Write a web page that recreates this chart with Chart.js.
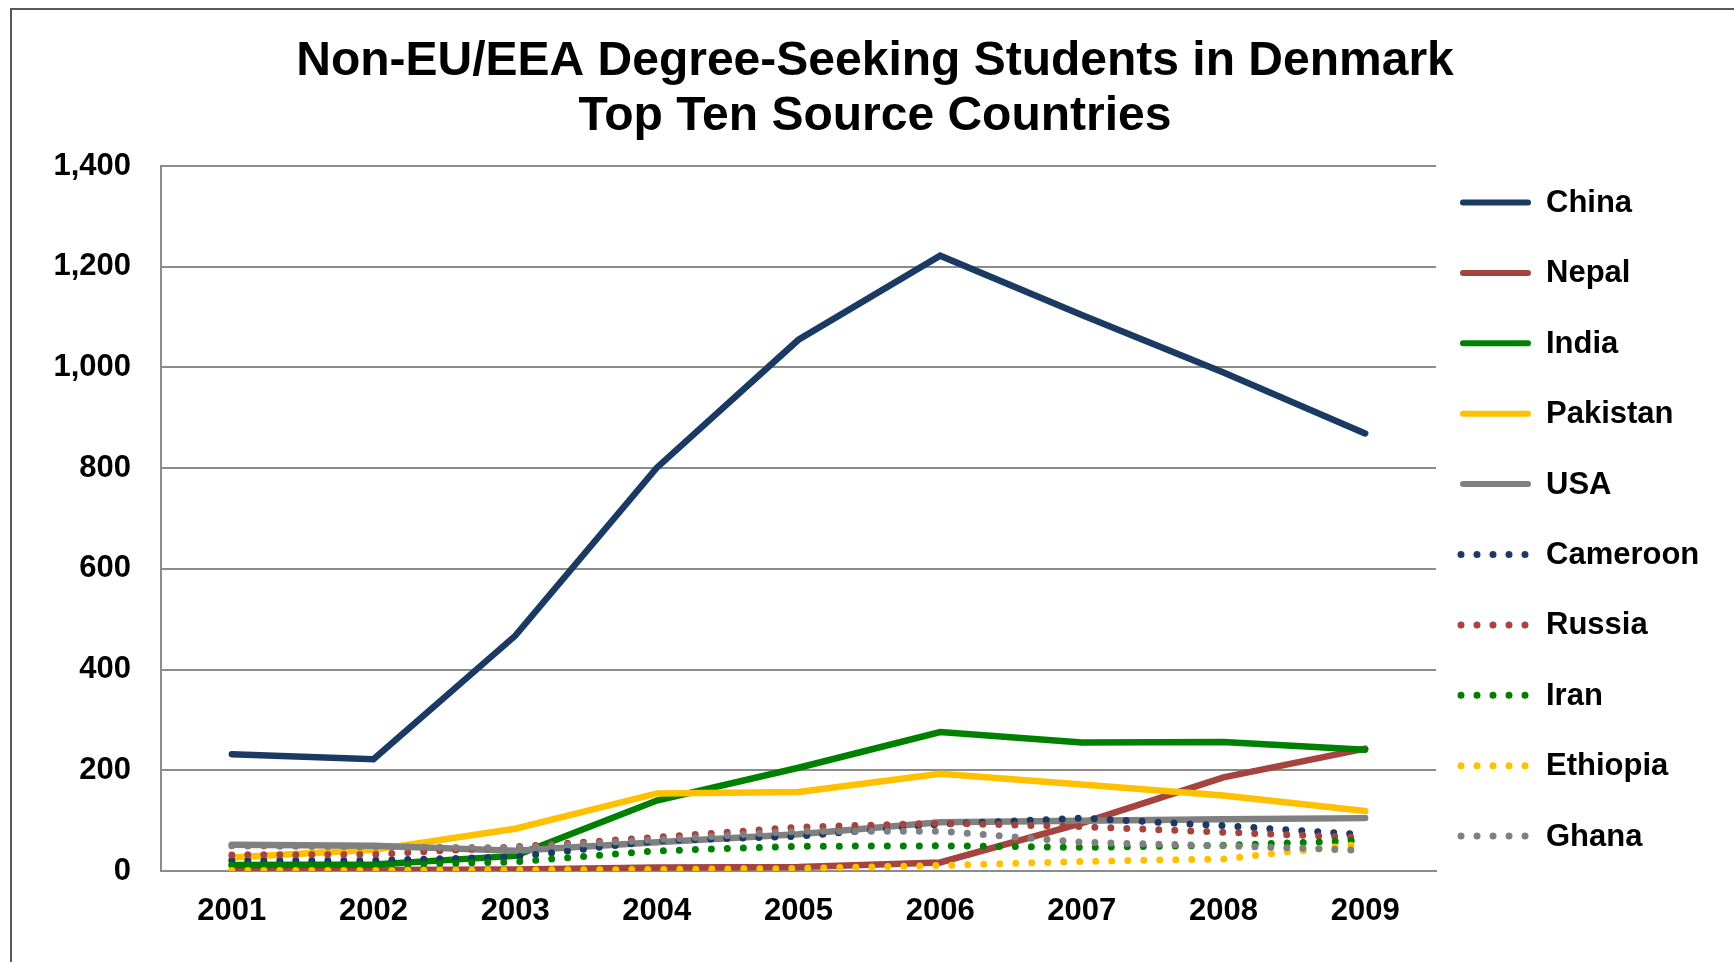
<!DOCTYPE html>
<html>
<head>
<meta charset="utf-8">
<title>Non-EU/EEA Degree-Seeking Students in Denmark</title>
<script src="https://cdn.jsdelivr.net/npm/chart.js@4.4.1/dist/chart.umd.min.js"></script>
<style>
  body { margin: 0; background: #fff; }
  canvas { display: block; }
</style>
</head>
<body>
<canvas id="line-chartcanvas" width="1734" height="962"></canvas>
<script>
var years = ["2001", "2002", "2003", "2004", "2005", "2006", "2007", "2008", "2009"];

var china    = [232, 222, 467, 801, 1055, 1222, 1104, 990, 869];
var nepal    = [2, 2, 3, 7, 8, 17, 95, 186, 243];
var india    = [12, 13, 30, 140, 205, 276, 255, 256, 241];
var pakistan = [27, 42, 84, 154, 157, 193, 172, 150, 119];
var usa      = [52, 50, 40, 57, 73, 97, 100, 103, 105];
var cameroon = [21, 21, 28, 60, 69, 93, 105, 90, 72];
var russia   = [32, 33, 48, 67, 87, 95, 88, 77, 66];
var iran     = [12, 12, 18, 40, 49, 50, 47, 51, 61];
var ethiopia = [1, 1, 2, 3, 5, 11, 19, 24, 54];
var ghana    = [50, 48, 46, 62, 79, 79, 57, 50, 41];

var countries = ["China", "Nepal", "India", "Pakistan", "USA", "Cameroon", "Russia", "Iran", "Ethiopia", "Ghana"];
var series = [china, nepal, india, pakistan, usa, cameroon, russia, iran, ethiopia, ghana];
var colors = ["#1b3a63", "#a5443f", "#008000", "#ffc000", "#808080", "#1b3a63", "#a5443f", "#008000", "#ffc000", "#808080"];
var dotted = [false, false, false, false, false, true, true, true, true, true];

var yTicks = [0, 200, 400, 600, 800, 1000, 1200, 1400];
var titleLines = ["Non-EU/EEA Degree-Seeking Students in Denmark", "Top Ten Source Countries"];

var fontFamily = "'Liberation Sans', Arial, sans-serif";

// Excel draws the first series at the bottom, so later series get a lower order
var datasets = [];
for (var i = 0; i < countries.length; i++) {
  datasets.push({
    label: countries[i],
    data: series[i],
    borderColor: colors[i],
    backgroundColor: colors[i],
    borderWidth: dotted[i] ? 7 : 6.5,
    borderDash: dotted[i] ? [0, 16] : [],
    borderCapStyle: "round",
    borderJoinStyle: dotted[i] ? "round" : "miter",
    pointRadius: 0,
    pointHoverRadius: 0,
    tension: 0,
    fill: false,
    order: countries.length - i
  });
}

// frame, title and legend are drawn by hand so they sit where the original has them
var decorations = {
  id: "decorations",
  beforeDraw: function(chart) {
    var ctx = chart.ctx;
    ctx.save();
    ctx.fillStyle = "#fff";
    ctx.fillRect(0, 0, chart.width, chart.height);
    ctx.strokeStyle = "#595959";
    ctx.lineWidth = 2;
    ctx.strokeRect(11, 9, chart.width + 20, chart.height + 20);
    ctx.restore();
  },
  afterDraw: function(chart) {
    var ctx = chart.ctx;
    ctx.save();
    ctx.fillStyle = "#000";
    ctx.textAlign = "center";
    ctx.textBaseline = "alphabetic";
    ctx.font = "bold 48px " + fontFamily;
    ctx.fillText(titleLines[0], 875, 74.5);
    ctx.fillText(titleLines[1], 875, 130);

    ctx.textAlign = "left";
    ctx.textBaseline = "middle";
    ctx.font = "bold 31px " + fontFamily;
    for (var i = 0; i < countries.length; i++) {
      var y = 202.5 + i * 70.4;
      ctx.beginPath();
      ctx.lineCap = "round";
      ctx.strokeStyle = colors[i];
      if (dotted[i]) {
        ctx.lineWidth = 7;
        ctx.setLineDash([0, 16]);
        ctx.moveTo(1461, y);
        ctx.lineTo(1526, y);
      } else {
        ctx.lineWidth = 6;
        ctx.setLineDash([]);
        ctx.moveTo(1463, y);
        ctx.lineTo(1528, y);
      }
      ctx.stroke();
      ctx.setLineDash([]);
      ctx.fillStyle = "#000";
      ctx.fillText(countries[i], 1546, y + 1);
    }
    ctx.restore();
  }
};

var ctx = document.getElementById("line-chartcanvas");

var chart = new Chart(ctx, {
  type: "line",
  data: {
    labels: years,
    datasets: datasets
  },
  options: {
    responsive: false,
    animation: false,
    events: [],
    layout: {
      padding: { top: 166, right: 298, bottom: 0, left: 0 }
    },
    plugins: {
      legend: { display: false },
      title: { display: false },
      tooltip: { enabled: false }
    },
    scales: {
      x: {
        offset: true,
        grid: { display: false, drawTicks: false },
        border: { display: true, color: "#8c8c8c", width: 2 },
        ticks: {
          color: "#000",
          padding: 22,
          maxRotation: 0,
          font: { family: fontFamily, size: 31, weight: "bold" }
        },
        afterFit: function(scale) { scale.height = 91; }
      },
      y: {
        min: 0,
        max: 1400,
        afterBuildTicks: function(scale) {
          scale.ticks = yTicks.map(function(v) { return { value: v }; });
        },
        grid: { color: "#8c8c8c", lineWidth: 2, drawTicks: false },
        border: { display: true, color: "#8c8c8c", width: 2 },
        ticks: {
          color: "#000",
          padding: 30,
          font: { family: fontFamily, size: 31, weight: "bold" },
          callback: function(value) { return value.toLocaleString("en-US"); }
        },
        afterFit: function(scale) { scale.width = 161; }
      }
    }
  },
  plugins: [decorations]
});
</script>
</body>
</html>
